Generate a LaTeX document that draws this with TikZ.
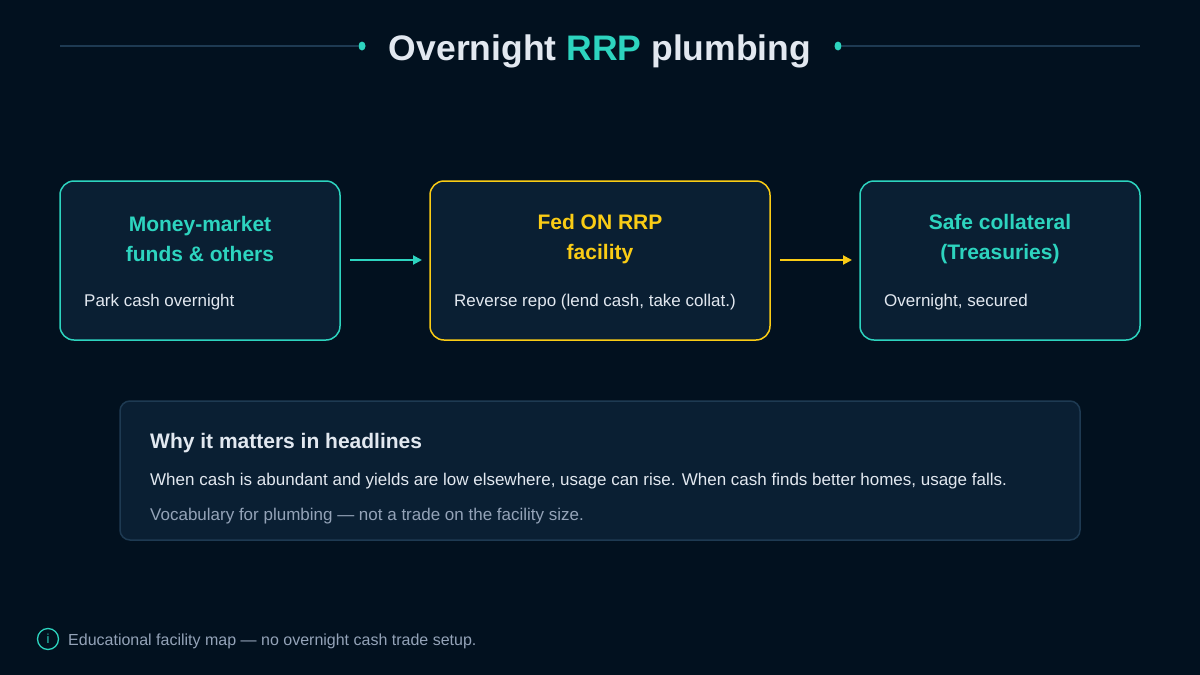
\documentclass[tikz,border=0pt]{standalone}
\usepackage{fontspec}
\setmainfont{Liberation Sans}
\usetikzlibrary{arrows.meta}
\definecolor{bg}{HTML}{02111F}
\definecolor{boxf}{HTML}{0A1F33}
\definecolor{teal}{HTML}{2DD4BF}
\definecolor{gold}{HTML}{FACC15}
\definecolor{txt}{HTML}{E2E8F0}
\definecolor{gry}{HTML}{94A3B8}
\definecolor{rule}{HTML}{1E3A52}
\begin{document}
\begin{tikzpicture}[x=1pt,y=-1pt,
  box/.style={line width=1.5pt,fill=boxf,rounded corners=14pt},
  ttl/.style={font=\fontsize{21}{30}\selectfont\bfseries,align=center},
  body/.style={font=\fontsize{17}{20}\selectfont,text=txt,anchor=west,inner sep=0pt},
  arr/.style={line width=2pt,-{Triangle[length=9pt,width=9pt]}}]
\fill[bg] (0,0) rectangle (1200,675);
\useasboundingbox (0,0) rectangle (1200,675);
\draw[rule,line width=1.5pt] (60,46) -- (358,46) (842,46) -- (1140,46);
\fill[teal] (362,46) ellipse (3.5 and 4.5);
\fill[teal] (838,46) ellipse (3.5 and 4.5);
\node[font=\fontsize{35.5}{40}\selectfont\bfseries,text=txt] (title) at (600,51) {Overnight \textcolor{teal}{RRP} plumbing};
\draw[box,draw=teal] (60,181) rectangle (340,340);
\draw[box,draw=gold] (430,181) rectangle (770,340);
\draw[box,draw=teal] (860,181) rectangle (1140,340);
\node[ttl,text=teal] (ta) at (200,239) {Money-market\\funds \& others};
\node[ttl,text=gold] (tb) at (600,239) {Fed ON RRP\\facility};
\node[ttl,text=teal] (tc) at (1000,239) {Safe collateral\\(Treasuries)};
\node[body] (ba) at (84,302) {Park cash overnight};
\node[body] (bb) at (454,302) {Reverse repo (lend cash, take collat.)};
\node[body] (bc) at (884,302) {Overnight, secured};
\coordinate (a1) at (350,260); \coordinate (a2) at (422,260);
\coordinate (b1) at (780,260); \coordinate (b2) at (852,260);
\draw[arr,teal] (a1) -- (a2);
\draw[arr,gold] (b1) -- (b2);
\draw[fill=boxf,draw=rule,line width=1.5pt,rounded corners=10pt] (120,401) rectangle (1080,540);
\node[anchor=west,inner sep=0pt,font=\fontsize{21}{25}\selectfont\bfseries,text=txt] (h) at (150,443) {Why it matters in headlines};
\node[body] (l1) at (150,481) {When cash is abundant and yields are low elsewhere, usage can rise. When cash finds better homes, usage falls.};
\node[body,text=gry] (l2) at (150,516) {Vocabulary for plumbing — not a trade on the facility size.};
\node[draw=teal,line width=1.3pt,circle,minimum size=21pt,inner sep=0pt,text=teal,font=\fontsize{13}{13}\selectfont] (ic) at (48,639) {i};
\node[anchor=west,inner sep=0pt,font=\fontsize{16}{19}\selectfont,text=gry] (ft) at (68,641) {Educational facility map — no overnight cash trade setup.};
\end{tikzpicture}
\end{document}
